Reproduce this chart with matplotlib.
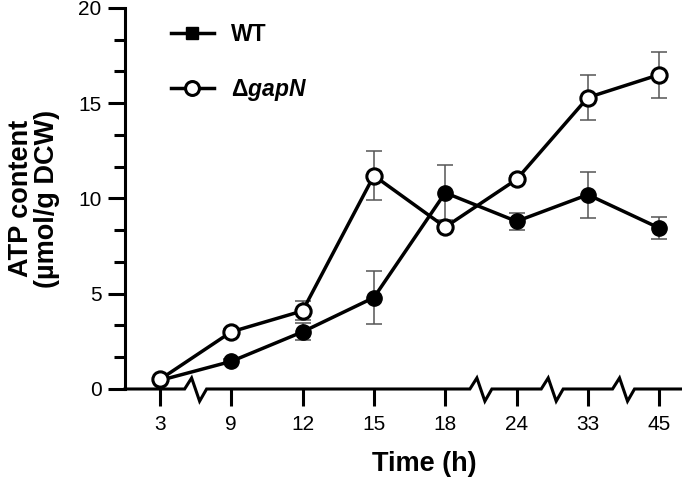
import numpy as np
import matplotlib
matplotlib.use('Agg')
import matplotlib.pyplot as plt
from matplotlib.lines import Line2D
from matplotlib.ticker import MultipleLocator
import matplotlib.transforms as mtransforms

plt.rcParams['font.family'] = ['Liberation Sans', 'DejaVu Sans']
plt.rcParams['mathtext.fontset'] = 'custom'
plt.rcParams['mathtext.rm'] = 'Liberation Sans:bold'
plt.rcParams['mathtext.bf'] = 'Liberation Sans:bold'
plt.rcParams['mathtext.it'] = 'Liberation Sans:italic:bold'

# Data
time_labels = ['3', '9', '12', '15', '18', '24', '33', '45']
wt_mean = [0.45, 1.45, 3.0, 4.8, 10.3, 8.8, 10.2, 8.45]
wt_err = [0.1, 0.15, 0.45, 1.4, 1.45, 0.45, 1.2, 0.57]
gapn_mean = [0.5, 3.0, 4.1, 11.2, 8.5, 11.0, 15.3, 16.5]
gapn_err = [0.1, 0.15, 0.5, 1.3, 0.2, 0.2, 1.2, 1.2]

# axis breaks sit halfway between these neighbouring categories
break_after = [0, 4, 5, 6]

x = np.arange(len(time_labels))

fig = plt.figure(figsize=(6.82, 4.78), dpi=100)
ax = fig.add_axes([0.1833, 0.1862, 0.8167, 0.7971])

err_color = '#555555'
ax.errorbar(x, wt_mean, yerr=wt_err, fmt='none', ecolor=err_color,
            elinewidth=1.1, capsize=5.5, capthick=1.1, zorder=2)
ax.errorbar(x, gapn_mean, yerr=gapn_err, fmt='none', ecolor=err_color,
            elinewidth=1.1, capsize=5.5, capthick=1.1, zorder=2)

ax.plot(x, wt_mean, color='black', lw=2.5, marker='o', ms=11,
        mfc='black', mec='black', zorder=3)
ax.plot(x, gapn_mean, color='black', lw=2.5, marker='o', ms=11,
        mfc='white', mec='black', mew=2.2, zorder=4)

ax.set_xlim(-0.49, 7.32)
ax.set_ylim(0, 20)
ax.set_xticks(x)
ax.set_xticklabels(time_labels)
ax.yaxis.set_major_locator(MultipleLocator(5))
ax.yaxis.set_minor_locator(MultipleLocator(5 / 3))

for side in ['top', 'right', 'bottom']:
    ax.spines[side].set_visible(False)
ax.spines['left'].set_linewidth(2.2)

ax.tick_params(axis='both', which='major', labelsize=15, width=2.2)
ax.tick_params(axis='x', length=12, pad=7)
ax.tick_params(axis='y', which='major', length=12, pad=5)
ax.tick_params(axis='y', which='minor', length=8, width=2.2)

# bottom axis with zigzag breaks
trans = mtransforms.blended_transform_factory(ax.transData, ax.transAxes)
xs = [ax.get_xlim()[0]]
ys = [0]
for i in break_after:
    b = (x[i] + x[i + 1]) / 2
    xs += [b - 0.154, b - 0.056, b + 0.056, b + 0.154]
    ys += [0, 0.029, -0.032, 0]
xs.append(ax.get_xlim()[1])
ys.append(0)
ax.add_line(Line2D(xs, ys, transform=trans, color='black', lw=2.2,
                   clip_on=False, solid_joinstyle='miter', zorder=5))

ax.set_xlabel('Time (h)', fontsize=19.5, fontweight='bold', labelpad=12)
ax.xaxis.label.set_x(0.538)
ax.set_ylabel('ATP content\n(µmol/g DCW)', fontsize=19.5,
              fontweight='bold', linespacing=1.0)
ax.yaxis.set_label_coords(-0.117, 0.5)

handles = [
    Line2D([], [], color='black', lw=2.5, marker='s', ms=9, mfc='black'),
    Line2D([], [], color='black', lw=2.5, marker='o', ms=10, mfc='white',
           mew=2.2),
]
leg = ax.legend(handles, ['WT', r'$\Delta gapN$'], loc='upper left',
                bbox_to_anchor=(0.045, 1.015), frameon=False,
                handlelength=1.9, handletextpad=0.75, labelspacing=1.35,
                prop={'size': 16.5, 'weight': 'bold'})

plt.savefig('out.png', dpi=100)
